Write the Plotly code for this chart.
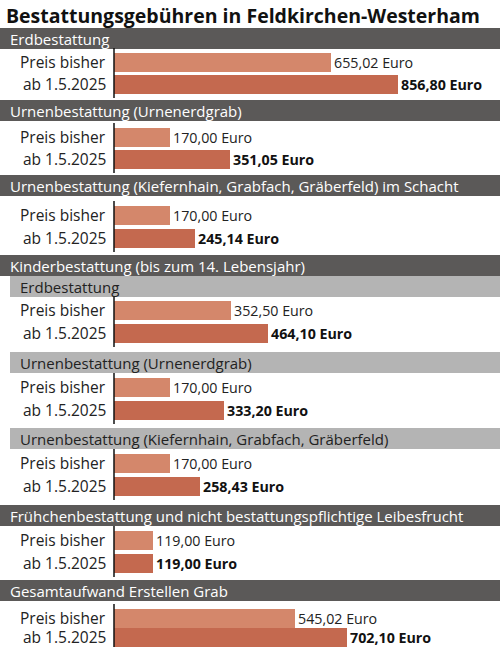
import plotly.graph_objects as go

sections = ["Erdbestattung", "Urnenbestattung (Urnenerdgrab)",
            "Urnenbestattung (Kiefernhain, Grabfach, Gräberfeld) im Schacht",
            "Kinderbestattung (bis zum 14. Lebensjahr)",
            "Erdbestattung", "Urnenbestattung (Urnenerdgrab)",
            "Urnenbestattung (Kiefernhain, Grabfach, Gräberfeld)",
            "Frühchenbestattung und nicht bestattungspflichtige Leibesfrucht",
            "Gesamtaufwand Erstellen Grab"]
price_old = [655.02, 170.00, 170.00, 352.50, 170.00, 170.00, 119.00, 545.02]
price_new = [856.80, 351.05, 245.14, 464.10, 333.20, 258.43, 119.00, 702.10]
row_labels = ["Preis bisher", "ab 1.5.2025"]

# layout in pixel coordinates (y axis = pixels from top)
header_top = [28, 100, 175, 255, 276, 352, 428, 505, 580]
header_kind = ["dark", "dark", "dark", "dark", "light", "light", "light", "dark", "dark"]
bar_y_old = [62, 137, 215, 310, 387, 463, 540, 618]
bar_y_new = [84, 159, 238, 333, 410, 486, 563, 637]

W, H = 500, 647
x0px = 114
scale = (398 - x0px) / 856.80
xr = [-x0px / scale, (W - x0px) / scale]

def fmt(v):
    return f"{v:,.2f}".replace(",", "X").replace(".", ",").replace("X", ".") + " Euro"

FONT = "Open Sans"
fig = go.Figure()
fig.add_trace(go.Bar(orientation="h", x=price_old, y=bar_y_old, width=19, base=0,
                     marker=dict(color="#d4876b", line_width=0),
                     text=[fmt(v) for v in price_old], textposition="outside",
                     textfont=dict(family=FONT, size=15, color="#222"),
                     cliponaxis=False, hoverinfo="skip"))
fig.add_trace(go.Bar(orientation="h", x=price_new, y=bar_y_new, width=19, base=0,
                     marker=dict(color="#c4694f", line_width=0),
                     text=[f"<b>{fmt(v)}</b>" for v in price_new], textposition="outside",
                     textfont=dict(family=FONT, size=15, color="#111"),
                     cliponaxis=False, hoverinfo="skip"))

shapes, ann = [], []
ann.append(dict(x=4 / W, y=15, xref="paper", yref="y", xanchor="left", yanchor="middle",
                text="<b>Bestattungsgebühren in Feldkirchen-Westerham</b>", showarrow=False,
                font=dict(family=FONT, size=19.5, color="#111")))
for i, (t, top, kind) in enumerate(zip(sections, header_top, header_kind)):
    left = 0 if kind == "dark" else 10
    shapes.append(dict(type="rect", xref="paper", yref="y", x0=left / W, x1=1,
                       y0=top, y1=top + 21, line_width=0,
                       fillcolor="#5b5958" if kind == "dark" else "#b4b4b4", layer="below"))
    ann.append(dict(x=(left + 8) / W, y=top + 10.5, xref="paper", yref="y",
                    xanchor="left", yanchor="middle", text=t, showarrow=False,
                    font=dict(family=FONT, size=15, color="white" if kind == "dark" else "#222")))
for yo, yn in zip(bar_y_old, bar_y_new):
    for yy, lab in zip((yo, yn), row_labels):
        ann.append(dict(x=108 / W, y=yy, xref="paper", yref="y", xanchor="right",
                        yanchor="middle", text=lab, showarrow=False,
                        font=dict(family=FONT, size=15.5, color="#222")))
    shapes.append(dict(type="line", x0=0, x1=0, xref="x", yref="y",
                       y0=yo - 14, y1=yn + 14, line=dict(color="#111", width=1.5)))

fig.update_layout(width=W, height=H, margin=dict(l=0, r=0, t=0, b=0),
                  paper_bgcolor="white", plot_bgcolor="white", showlegend=False,
                  shapes=shapes, annotations=ann, bargap=0,
                  xaxis=dict(range=xr, visible=False, fixedrange=True),
                  yaxis=dict(range=[H, 0], visible=False, fixedrange=True))
fig.write_html("out.html", config={"displayModeBar": False},
               post_script="document.body.style.margin='0';")
